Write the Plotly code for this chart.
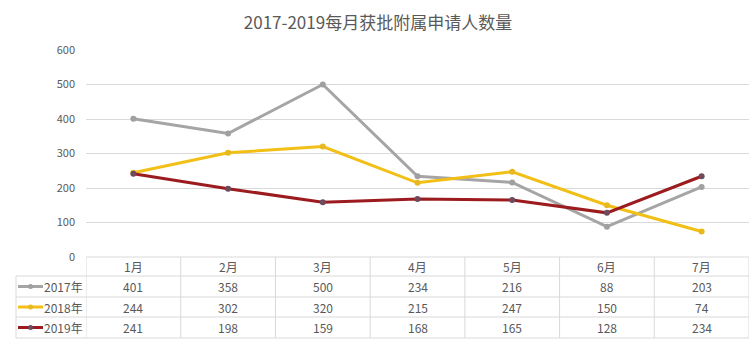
import plotly.graph_objects as go

months = ["1月", "2月", "3月", "4月", "5月", "6月", "7月"]
series_names = ["2017年", "2018年", "2019年"]
v2017 = [401, 358, 500, 234, 216, 88, 203]
v2018 = [244, 302, 320, 215, 247, 150, 74]
v2019 = [241, 198, 159, 168, 165, 128, 234]
title = "2017-2019每月获批附属申请人数量"

values = [v2017, v2018, v2019]
line_colors = ["#A5A5A5", "#F2BF17", "#9B1B1E"]
marker_colors = ["#A0A0A0", "#E8B820", "#6E4A5E"]

W, H = 756, 344
L, R, T, B = 86, 7, 50, 87
pw = W - L - R
ph = H - T - B
FONT = "Noto Sans CJK SC, Open Sans, sans-serif"
TXT = "#595959"
GRID = "#D9D9D9"

def py(p):  # pixel y -> paper y
    return (H - B - p) / ph

def px(p):  # pixel x -> paper x
    return (p - L) / pw

fig = go.Figure()
for name, vals, lc, mc in zip(series_names, values, line_colors, marker_colors):
    fig.add_trace(go.Scatter(
        x=months, y=vals, name=name, mode="lines+markers",
        line=dict(color=lc, width=3),
        marker=dict(color=mc, size=6, line=dict(width=0)),
        showlegend=False,
    ))

shapes = []
annotations = []

row_y = [257, 276, 297, 317, 338]
shapes.append(dict(type="line", xref="paper", yref="paper", x0=0, x1=1,
                   y0=py(row_y[0]), y1=py(row_y[0]), line=dict(color=GRID, width=1)))
for yy in row_y[1:]:
    shapes.append(dict(type="line", xref="paper", yref="paper", x0=px(16), x1=1,
                       y0=py(yy), y1=py(yy), line=dict(color=GRID, width=1)))
for i in range(len(months) + 1):
    shapes.append(dict(type="line", xref="x", yref="paper", x0=i - 0.5, x1=i - 0.5,
                       y0=py(row_y[0]), y1=py(row_y[-1]), line=dict(color=GRID, width=1)))
shapes.append(dict(type="line", xref="paper", yref="paper", x0=px(16), x1=px(16),
                   y0=py(row_y[1]), y1=py(row_y[-1]), line=dict(color=GRID, width=1)))

def txt(x, y, text, xref="x", xanchor="center"):
    return dict(x=x, y=y, xref=xref, yref="paper", text=text, showarrow=False,
                xanchor=xanchor, yanchor="middle",
                font=dict(size=12, color=TXT, family=FONT))

for i, m in enumerate(months):
    annotations.append(txt(i, py((row_y[0] + row_y[1]) / 2), m))
for r, (name, vals, lc, mc) in enumerate(zip(series_names, values, line_colors, marker_colors)):
    yc = py((row_y[r + 1] + row_y[r + 2]) / 2)
    for i, v in enumerate(vals):
        annotations.append(txt(i, yc, str(v)))
    shapes.append(dict(type="line", xref="paper", yref="paper", x0=px(18), x1=px(43),
                       y0=yc, y1=yc, line=dict(color=lc, width=3)))
    shapes.append(dict(type="circle", xref="paper", yref="paper", x0=px(28), x1=px(33),
                       y0=yc - 2.5 / ph, y1=yc + 2.5 / ph, fillcolor=mc, line=dict(width=0)))
    annotations.append(txt(px(42), yc, name, xref="paper", xanchor="left"))

fig.update_layout(
    width=W, height=H,
    margin=dict(l=L, r=R, t=T, b=B),
    paper_bgcolor="white", plot_bgcolor="white",
    title=dict(text=title, x=0.5, xref="container", xanchor="center",
               y=1 - 23 / H, yref="container", yanchor="middle",
               font=dict(size=17, color=TXT, family=FONT)),
    xaxis=dict(type="category", range=[-0.5, 6.5], showticklabels=False, showgrid=False,
               zeroline=False, showline=False, ticks=""),
    yaxis=dict(range=[0, 600], dtick=100, showgrid=True, gridcolor=GRID, gridwidth=1,
               zeroline=False, showline=False, ticks="", ticklabelstandoff=10,
               tickfont=dict(size=11, color=TXT, family=FONT)),
    shapes=shapes, annotations=annotations,
    font=dict(family=FONT, color=TXT),
)
fig.write_html("out.html")
